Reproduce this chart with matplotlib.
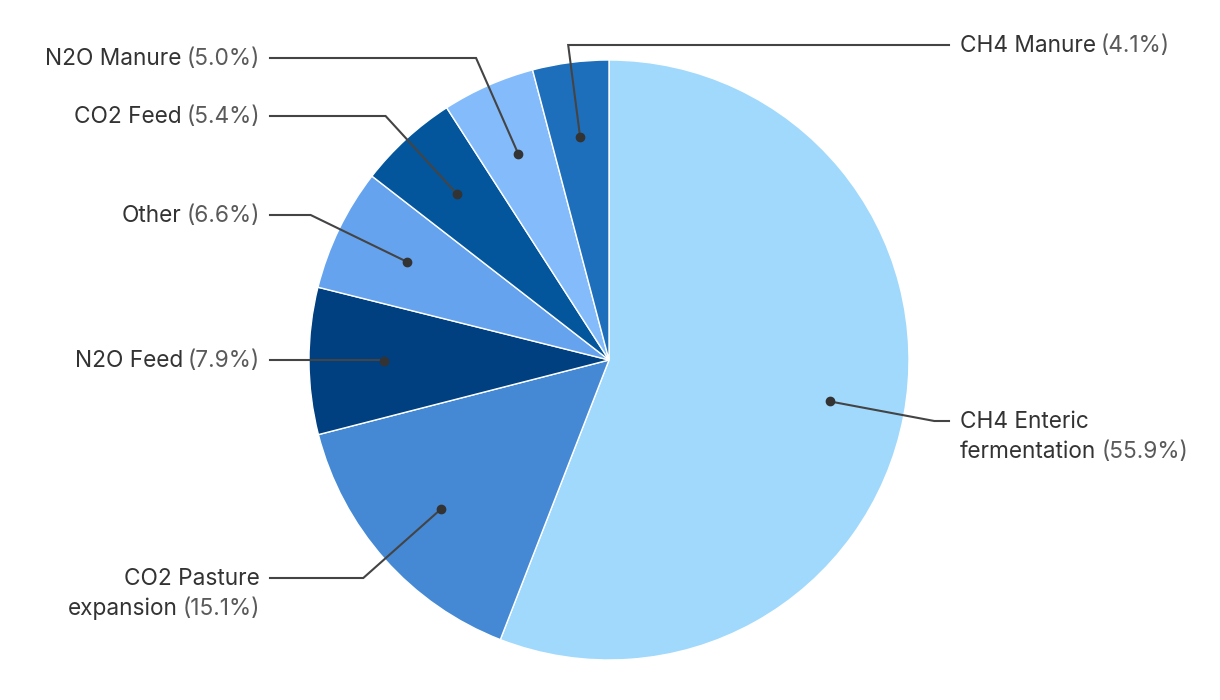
import matplotlib.pyplot as plt
import numpy as np

# slices in drawing order (clockwise from 12 o'clock)
names = ["CH4 Enteric\nfermentation", "CO2 Pasture\nexpansion", "N2O Feed", "Other",
         "CO2 Feed", "N2O Manure", "CH4 Manure"]
shares = [55.9, 15.1, 7.9, 6.6, 5.4, 5.0, 4.1]
colors = ["#a1d9fd", "#4589d5", "#003f80", "#66a3ee", "#03569c", "#84bcfb", "#1e6fbb"]

# label row (pixel y of first line) and side for each slice
label_y = [421, 578, 360, 215, 116, 58, 45]
label_side = ["right", "left", "left", "left", "left", "left", "right"]

plt.rcParams['font.family'] = ['Inter', 'DejaVu Sans']

fig = plt.figure(figsize=(12.2, 7), dpi=100)
ax = fig.add_axes([0, 0, 1, 1])

cx, cy, r = 609, 360, 300
# y axis runs downwards, so counterclockwise in data = clockwise on screen
wedges, _ = ax.pie(shares, colors=colors, startangle=270, counterclock=True,
                   center=(cx, cy), radius=r,
                   wedgeprops=dict(edgecolor="white", linewidth=1))
ax.set_xlim(0, 1220)
ax.set_ylim(700, 0)
ax.axis("off")

renderer = fig.canvas.get_renderer()
fs = 16.3
name_col = "#333333"
pct_col = "#5a5a5a"
line_col = "#444444"
line_h = 30
gap = 5

for w, name, pct, ly, side in zip(wedges, names, shares, label_y, label_side):
    ang = np.deg2rad((w.theta1 + w.theta2) / 2)
    dx, dy = np.cos(ang), np.sin(ang)
    px, py = cx + 0.75 * r * dx, cy + 0.75 * r * dy
    if abs(dy) > 0.05:
        t = (ly - py) / dy
        ex, ey = px + t * dx, ly
    else:
        ex, ey = px, ly
    end_x = 949 if side == "right" else 270
    ax.plot([px, ex, end_x], [py, ey, ly], color=line_col, lw=1.5, solid_joinstyle="miter")
    ax.plot(px, py, "o", color="#333333", ms=6)

    lines = name.split("\n")
    for i, ln in enumerate(lines):
        y = ly + i * line_h + 1
        last = i == len(lines) - 1
        ptxt = f"({pct:.1f}%)" if last else ""
        if side == "right":
            x0 = 960
            t1 = ax.text(x0, y, ln, ha="left", va="center", fontsize=fs, color=name_col)
            if ptxt:
                wd = t1.get_window_extent(renderer).width
                ax.text(x0 + wd + gap, y, ptxt, ha="left", va="center", fontsize=fs,
                        color=pct_col)
        else:
            x0 = 260
            if ptxt:
                t2 = ax.text(x0, y, ptxt, ha="right", va="center", fontsize=fs,
                             color=pct_col)
                wd = t2.get_window_extent(renderer).width
                ax.text(x0 - wd - gap, y, ln, ha="right", va="center", fontsize=fs, color=name_col)
            else:
                ax.text(x0, y, ln, ha="right", va="center", fontsize=fs, color=name_col)

fig.savefig("out.png", dpi=100)
